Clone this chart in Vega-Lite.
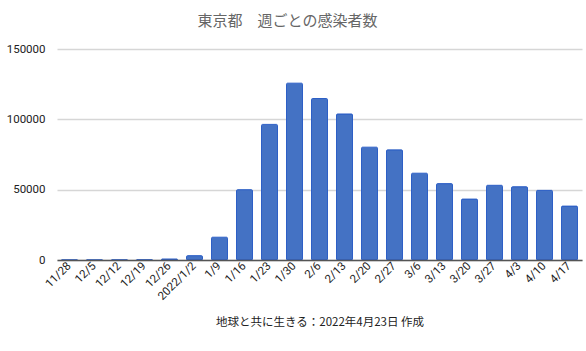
{
  "$schema": "https://vega.github.io/schema/vega-lite/v6.json",
  "autosize": "none",
  "width": 525,
  "height": 211,
  "padding": {"left": 57, "top": 49, "right": 4, "bottom": 91},
  "background": "white",
  "config": {"view": {"stroke": null}, "font": "Roboto"},
  "title": {
    "text": "東京都　週ごとの感染者数",
    "font": "Noto Sans CJK JP",
    "fontSize": 15,
    "fontWeight": "normal",
    "color": "#666666",
    "anchor": "middle",
    "dx": -32,
    "offset": 14
  },
  "data": {
    "values": [
      {"week": "11/28", "cases": 120},
      {"week": "12/5", "cases": 110},
      {"week": "12/12", "cases": 150},
      {"week": "12/19", "cases": 210},
      {"week": "12/26", "cases": 700},
      {"week": "2022/1/2", "cases": 3100},
      {"week": "1/9", "cases": 16200},
      {"week": "1/16", "cases": 50000},
      {"week": "1/23", "cases": 96400},
      {"week": "1/30", "cases": 125700},
      {"week": "2/6", "cases": 114800},
      {"week": "2/13", "cases": 103800},
      {"week": "2/20", "cases": 80200},
      {"week": "2/27", "cases": 78300},
      {"week": "3/6", "cases": 61700},
      {"week": "3/13", "cases": 54300},
      {"week": "3/20", "cases": 43300},
      {"week": "3/27", "cases": 53100},
      {"week": "4/3", "cases": 52100},
      {"week": "4/10", "cases": 49500},
      {"week": "4/17", "cases": 38300}
    ]
  },
  "mark": {"type": "bar", "fill": "#4472c4", "stroke": "#2d5fc6", "strokeWidth": 1, "cornerRadius": 1},
  "encoding": {
    "x": {
      "field": "week",
      "type": "ordinal",
      "sort": null,
      "scale": {"paddingInner": 0.36, "paddingOuter": 0.18},
      "axis": {
        "zindex": 1,
        "title": "地球と共に生きる：2022年4月23日 作成",
        "titleFont": "Noto Sans CJK JP",
        "titleFontSize": 11.5,
        "titleFontWeight": "normal",
        "titleColor": "#222222",
        "titlePadding": 14,
        "labelAngle": -45,
        "labelAlign": "right",
        "labelBaseline": "middle",
        "labelFontSize": 11.5,
        "labelColor": "#222222",
        "labelPadding": 4,
        "ticks": false,
        "domainColor": "#555555",
        "domainWidth": 1.5,
        "grid": false
      }
    },
    "y": {
      "field": "cases",
      "type": "quantitative",
      "scale": {"domain": [0, 150000], "nice": false},
      "axis": {
        "title": null,
        "values": [0, 50000, 100000, 150000],
        "format": "d",
        "labelFontSize": 11.5,
        "labelColor": "#222222",
        "labelPadding": 12,
        "ticks": false,
        "domain": false,
        "gridColor": "#d6d6d6",
        "gridWidth": 1.5
      }
    }
  }
}
